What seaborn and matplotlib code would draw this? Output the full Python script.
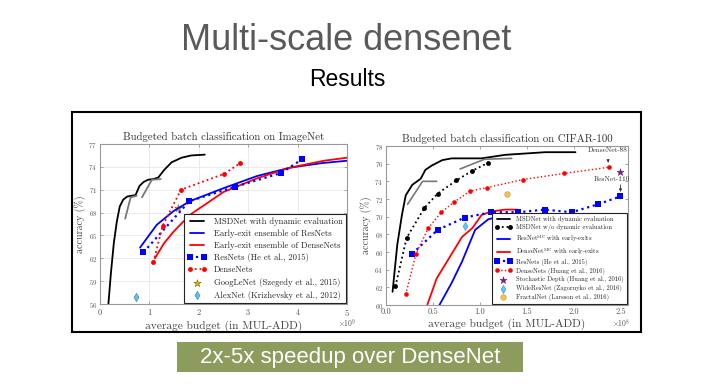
import numpy as np
import pandas as pd
import seaborn as sns
import matplotlib.pyplot as plt
from matplotlib.patches import Rectangle

# ---- ImageNet panel (budget in 1e9 MUL-ADD) ----
in_msd_x = [0.17, 0.22, 0.28, 0.34, 0.40, 0.47, 0.55, 0.63, 0.72, 0.80, 0.88,
            0.97, 1.08, 1.18, 1.30, 1.45, 1.65, 1.85, 2.12]
in_msd_y = [56.0, 60.0, 64.0, 66.8, 68.8, 69.7, 70.1, 70.2, 70.3, 71.5, 72.0,
            72.3, 72.4, 72.6, 73.6, 74.6, 75.2, 75.5, 75.6]
in_grey1_x = [0.51, 0.62, 0.74]
in_grey1_y = [67.2, 70.0, 70.2]
in_grey2_x = [0.85, 1.05, 1.23]
in_grey2_y = [70.0, 72.3, 72.4]
in_eres_x = [0.81, 1.15, 1.49, 1.82, 2.50, 3.18, 3.85, 4.50, 5.00]
in_eres_y = [63.4, 66.4, 68.2, 69.5, 71.2, 72.8, 73.9, 74.5, 74.8]
in_eden_x = [1.11, 1.30, 1.49, 1.82, 2.50, 3.18, 3.85, 4.53, 5.00]
in_eden_y = [62.0, 64.0, 65.5, 67.7, 70.7, 72.5, 73.9, 74.8, 75.2]
in_res_x = [0.88, 1.81, 2.74, 3.67, 4.09]
in_res_y = [62.8, 69.5, 71.4, 73.2, 75.0]
in_den_x = [1.08, 1.27, 1.64, 2.52, 2.84]
in_den_y = [61.5, 66.3, 71.0, 73.1, 74.5]
googlenet = (1.57, 68.6)
alexnet = (0.72, 56.9)

# ---- CIFAR-100 panel (budget in 1e8 MUL-ADD) ----
c_msd_x = [0.07, 0.12, 0.17, 0.21, 0.28, 0.37, 0.42, 0.49, 0.60, 0.70, 1.02,
           1.27, 1.70, 2.02]
c_msd_y = [61.5, 66.8, 70.2, 72.4, 73.6, 74.3, 75.3, 75.8, 76.4, 76.6, 76.6,
           77.0, 77.3, 77.3]
c_grey1_x = [0.23, 0.39, 0.54]
c_grey1_y = [71.4, 74.0, 74.0]
c_grey2_x = [0.79, 1.05, 1.34]
c_grey2_y = [75.4, 76.5, 76.6]
c_nodyn_x = [0.10, 0.22, 0.41, 0.55, 0.75, 0.92, 1.09]
c_nodyn_y = [62.1, 67.6, 71.0, 72.6, 74.1, 75.2, 76.1]
c_eres_x = [0.57, 0.70, 0.81, 0.95, 1.09, 1.20, 1.31]
c_eres_y = [60.0, 62.5, 64.9, 68.5, 69.7, 70.0, 70.1]
c_eden_x = [0.44, 0.54, 0.69, 0.81, 0.92, 1.02, 1.13, 1.27, 1.40]
c_eden_y = [60.0, 63.0, 65.6, 67.7, 68.7, 70.2, 70.6, 70.8, 70.8]
c_res_x = [0.28, 0.55, 0.84, 1.12, 1.41, 1.69, 1.98, 2.26, 2.50]
c_res_y = [65.8, 68.5, 69.9, 70.5, 70.5, 70.8, 70.5, 71.4, 72.3]
c_den_x = [0.21, 0.32, 0.45, 0.59, 0.73, 0.90, 1.08, 1.46, 1.90, 2.38]
c_den_y = [61.2, 65.8, 68.7, 70.5, 71.7, 72.9, 73.3, 74.2, 74.9, 75.6]
stoch_depth = (2.50, 75.1)
wideresnet = (0.84, 69.0)
fractalnet = (1.29, 72.6)

sns.set_theme(style="ticks")
plt.rcParams['font.family'] = ['cmr10', 'DejaVu Serif']
plt.rcParams['mathtext.fontset'] = 'cm'
plt.rcParams['axes.formatter.use_mathtext'] = True
plt.rcParams['axes.unicode_minus'] = False

BLUE = '#0000ff'
RED = '#ff0000'
GREY = '#777777'
SPINE = '#999999'

fig = plt.figure(figsize=(7.03, 3.91), dpi=100)
W, H = 703, 391


def px_axes(x0, y0, x1, y1):
    return fig.add_axes([x0 / W, 1 - y1 / H, (x1 - x0) / W, (y1 - y0) / H])


def line(ax, x, y, **kw):
    sns.lineplot(x=x, y=y, ax=ax, sort=False, estimator=None, **kw)


def style_axes(ax):
    for s in ax.spines.values():
        s.set_color(SPINE)
        s.set_linewidth(0.8)
    ax.tick_params(direction='in', length=2, width=0.6, color=SPINE,
                   labelcolor='#555555', top=True, right=True, pad=2)


# ---------------- left: ImageNet ----------------
ax1 = px_axes(100, 144, 347, 304)
ax1.grid(True, color='#e8e8e8', lw=0.6)
line(ax1, in_msd_x, in_msd_y, color='black', lw=1.3,
     label='MSDNet with dynamic evaluation')
line(ax1, in_grey1_x, in_grey1_y, color=GREY, lw=1.3)
line(ax1, in_grey2_x, in_grey2_y, color=GREY, lw=1.3)
line(ax1, in_eres_x, in_eres_y, color=BLUE, lw=1.3,
     label='Early-exit ensemble of ResNets')
line(ax1, in_eden_x, in_eden_y, color=RED, lw=1.3,
     label='Early-exit ensemble of DenseNets')
line(ax1, in_res_x, in_res_y, color=BLUE, lw=1.6, linestyle=':', marker='s',
     markersize=4, markeredgewidth=0, label='ResNets (He et al., 2015)')
line(ax1, in_den_x, in_den_y, color=RED, lw=1.3, linestyle=':', marker='o',
     markersize=3.5, markeredgewidth=0, label='DenseNets')
sns.scatterplot(x=[googlenet[0]], y=[googlenet[1]], ax=ax1, marker='*', s=30,
                color='#e0b020', edgecolor='#806000', linewidth=0.4,
                label='GoogLeNet (Szegedy et al., 2015)')
sns.scatterplot(x=[alexnet[0]], y=[alexnet[1]], ax=ax1, marker='d', s=18,
                color='#5fc0f0', edgecolor='#3080b0', linewidth=0.4,
                label='AlexNet (Krizhevsky et al., 2012)')
ax1.set_xlim(0, 5)
ax1.set_ylim(56, 77)
ax1.set_xticks(range(0, 6))
ax1.set_yticks(range(56, 78, 3))
style_axes(ax1)
ax1.tick_params(axis='y', labelsize=5)
ax1.tick_params(axis='x', labelsize=6)
ax1.set_title('Budgeted batch classification on ImageNet', fontsize=7.8,
              color='#333333', pad=3)
ax1.set_xlabel('average budget (in MUL-ADD)', fontsize=8.2, color='#444444',
               labelpad=2)
ax1.set_ylabel('accuracy (%)', fontsize=7.2, color='#444444', labelpad=2)
ax1.text(1.0, -0.12, r'$\times10^9$', transform=ax1.transAxes, fontsize=5.5,
         color='#555555', ha='center', va='center')
leg1 = ax1.legend(loc='lower right', fontsize=6.2, frameon=True, fancybox=False,
                  framealpha=1, edgecolor='#222222', numpoints=2,
                  scatterpoints=1, handlelength=2.3, borderpad=0.4,
                  labelspacing=0.42, borderaxespad=0.1)
leg1.get_frame().set_linewidth(0.8)

# ---------------- right: CIFAR-100 ----------------
ax2 = px_axes(386, 146, 628, 305)
line(ax2, c_msd_x, c_msd_y, color='black', lw=1.3,
     label='MSDNet with dynamic evaluation')
line(ax2, c_grey1_x, c_grey1_y, color=GREY, lw=1.2)
line(ax2, c_grey2_x, c_grey2_y, color=GREY, lw=1.2)
line(ax2, c_nodyn_x, c_nodyn_y, color='black', lw=1.3, linestyle=':',
     marker='o', markersize=3.5, markeredgewidth=0,
     label='MSDNet w/o dynamic evaluation')
line(ax2, c_eres_x, c_eres_y, color=BLUE, lw=1.3,
     label=r'ResNet$^{\rm MC}$ with early-exits')
line(ax2, c_eden_x, c_eden_y, color=RED, lw=1.3,
     label=r'DenseNet$^{\rm MC}$ with early-exits')
line(ax2, c_res_x, c_res_y, color=BLUE, lw=1.6, linestyle=':', marker='s',
     markersize=3.8, markeredgewidth=0, label='ResNets (He et al., 2015)')
line(ax2, c_den_x, c_den_y, color=RED, lw=1.0, linestyle=':', marker='o',
     markersize=3.3, markeredgewidth=0, label='DenseNets (Huang et al., 2016)')
sns.scatterplot(x=[stoch_depth[0]], y=[stoch_depth[1]], ax=ax2, marker='*',
                s=28, color='#8a1a8a', edgecolor='#5a005a', linewidth=0.3,
                label='Stochastic Depth (Huang et al., 2016)')
sns.scatterplot(x=[wideresnet[0]], y=[wideresnet[1]], ax=ax2, marker='d',
                s=18, color='#5fc8f0', edgecolor='#3080b0', linewidth=0.3,
                label='WideResNet (Zagoruyko et al., 2016)')
sns.scatterplot(x=[fractalnet[0]], y=[fractalnet[1]], ax=ax2, marker='o',
                s=16, color='#f5c050', edgecolor='#b08020', linewidth=0.3,
                label='FractalNet (Larsson et al., 2016)')
ax2.set_xlim(0, 2.58)
ax2.set_ylim(60, 78)
ax2.set_xticks(np.arange(0, 2.51, 0.5))
ax2.set_xticklabels(['0.0', '0.5', '1.0', '1.5', '2.0', '2.5'])
ax2.set_yticks(range(60, 79, 2))
style_axes(ax2)
ax2.tick_params(axis='y', labelsize=5)
ax2.tick_params(axis='x', labelsize=6)
ax2.set_title('Budgeted batch classification on CIFAR-100', fontsize=7.8,
              color='#333333', pad=3)
ax2.set_xlabel('average budget (in MUL-ADD)', fontsize=8.2, color='#444444',
               labelpad=2)
ax2.set_ylabel('accuracy (%)', fontsize=7.2, color='#444444', labelpad=2)
ax2.text(0.97, -0.12, r'$\times10^8$', transform=ax2.transAxes, fontsize=5.5,
         color='#555555', ha='center', va='center')
ax2.annotate('DenseNet-88', xy=(2.37, 76.1), xytext=(2.36, 77.55),
             fontsize=5.2, color='#333333', ha='center', va='center',
             arrowprops=dict(arrowstyle='-|>', color='#333333', lw=0.6,
                             mutation_scale=4, shrinkA=3, shrinkB=0))
ax2.text(2.41, 74.3, 'ResNet-110', fontsize=5.2, color='#333333',
         ha='center', va='center')
ax2.annotate('', xy=(2.50, 72.8), xytext=(2.50, 73.6),
             arrowprops=dict(arrowstyle='-|>', color='#333333', lw=0.6,
                             mutation_scale=4, shrinkA=0, shrinkB=0))
leg2 = ax2.legend(loc='lower right', fontsize=4.7, frameon=True, fancybox=False,
                  framealpha=1, edgecolor='#222222', numpoints=2,
                  scatterpoints=1, handlelength=2.6, borderpad=0.5,
                  labelspacing=0.28, borderaxespad=0.1, handletextpad=0.7)
leg2.get_frame().set_linewidth(0.8)

# ---------------- slide decorations ----------------
fig.patches.append(Rectangle((72 / W, 1 - 332 / H), (641 - 72) / W,
                             (332 - 112) / H, transform=fig.transFigure,
                             fill=False, edgecolor='black', lw=1.5, zorder=0))
fig.patches.append(Rectangle((177 / W, 1 - 372 / H), (523 - 177) / W,
                             (372 - 342) / H, transform=fig.transFigure,
                             facecolor='#8c9c5c', edgecolor='none', zorder=0))
fig.text(346 / W, 1 - 41 / H, 'Multi-scale densenet', family='Liberation Sans',
         fontsize=26, color='#595959', ha='center', va='center')
fig.text(347 / W, 1 - 79 / H, 'Results', family='Liberation Sans',
         fontsize=16.5, color='black', ha='center', va='center')
fig.text(350 / W, 1 - 357 / H, '2x-5x speedup over DenseNet',
         family='Liberation Sans', fontsize=16, color='white',
         ha='center', va='center')

plt.savefig('out.png', dpi=100)
